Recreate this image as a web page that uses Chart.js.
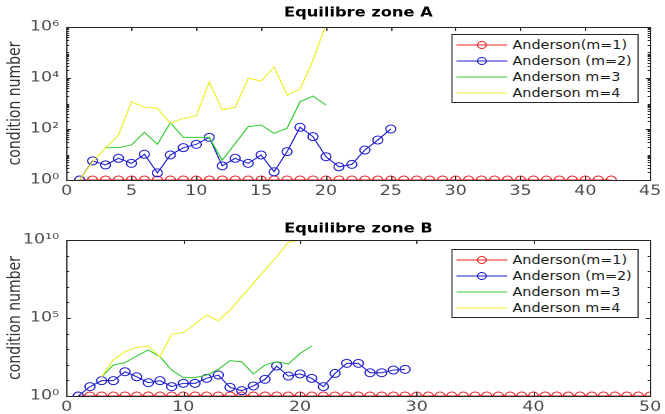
<!DOCTYPE html>
<html>
<head>
<meta charset="utf-8">
<script src="https://cdn.jsdelivr.net/npm/chart.js@4.4.1/dist/chart.umd.min.js"></script>
<style>
  html, body { margin: 0; padding: 0; background: #fff; overflow: hidden; width: 665px; height: 414px; }
  /* the reference figure is stretched horizontally, so draw narrow and stretch */
  #wrap { position: absolute; left: 0; top: 0; width: 532px; height: 414px; transform: scaleX(1.25); transform-origin: 0 0; }
  .panel { position: absolute; left: 0; width: 532px; height: 207px; }
  .legend { position: absolute; left: 361px; width: 150px; height: 69px; box-sizing: border-box; border: 1px solid #262626;
            background: #fff; padding-top: 2px; font: 11.5px "DejaVu Sans", sans-serif; color: #1a1a1a; }
  .row { height: 16px; display: flex; align-items: center; white-space: nowrap; }
  .row svg { margin-left: 3px; margin-right: 4px; flex: none; }
</style>
</head>
<body>
<div id="wrap">
  <div class="panel" style="top:0"><canvas id="chartA" width="532" height="207"></canvas></div>
  <div class="panel" style="top:207px"><canvas id="chartB" width="532" height="207"></canvas></div>
  <div class="legend" id="legA" style="top:34px"></div>
  <div class="legend" id="legB" style="top:249px"></div>
</div>
<script>
// ---- data (index = iteration 1, 2, 3 ...) ----
var labels = ['Anderson(m=1)', 'Anderson (m=2)', 'Anderson m=3', 'Anderson m=4'];

// zone A
var redA = [1,1,1,1,1,1,1,1,1,1,1,1,1,1,1,1,1,1,1,1,1,1,1,1,1,1,1,1,1,1,1,1,1,1,1,1,1,1,1,1,1,1];
var blueA = [1, 5.6, 3.9, 7.1, 4.5, 10.2, 1.9, 9.6, 18.5, 25, 47, 3.6, 7.1, 4.5, 9.6, 2.1, 12.9, 117, 50, 8.2, 3.3, 4.1, 15, 37, 100];
var greenA = [null, null, 18.5, 18.5, 23.6, 74, 25, 177, 47, 47, 47, 6, 27, 123, 143, 68, 107, 1170, 1960, 870];
var yellowA = [1, 5.2, 18.5, 58, 1170, 710, 650, 167, 262, 324, 7000, 560, 710, 9700, 7600, 27000, 2150, 3600, 50000, 1.3e6];

// zone B
var redB = [1,1,1,1,1,1,1,1,1,1,1,1,1,1,1,1,1,1,1,1,1,1,1,1,1,1,1,1,1,1,1,1,1,1,1,1,1,1,1,1,1,1,1,1,1,1,1,1,1,1];
var blueB = [1, 4, 9.6, 9.6, 36, 17, 7.1, 9.6, 4, 6.5, 6.5, 13.6, 22, 3.6, 2.2, 4.4, 11.7, 83, 19, 26, 13.6, 4, 28, 124, 124, 31, 31, 46, 51];
var greenB = [null, null, 17, 97, 137, 365, 890, 330, 46, 15, 15, 22, 51, 185, 158, 26, 97, 158, 112, 540, 1600];
var yellowB = [null, null, 17, 204, 690, 1320, 1600, 330, 9400, 11400, 41000, 155000, 67000, 3.2e5, 2.3e6, 1.7e7, 1.2e8, 8.5e8, 7e9, 1e10];

// axis ticks
var xTicksA = { max: 45, step: 5 };
var xTicksB = { max: 50, step: 10 };
var yTicksA = [1, 1e2, 1e4, 1e6];
var yTicksB = [1, 1e5, 1e10];

var RED = 'rgb(238,34,34)', BLUE = 'rgb(30,30,205)', GREEN = 'rgb(50,205,50)', YELLOW = 'rgb(238,238,40)';
var colors = [RED, BLUE, GREEN, YELLOW];

Chart.defaults.font.family = '"DejaVu Sans", sans-serif';

var SUP = {'0':'\u2070','1':'\u00b9','2':'\u00b2','3':'\u00b3','4':'\u2074','5':'\u2075','6':'\u2076','7':'\u2077','8':'\u2078','9':'\u2079'};
function powLabel(v) {
  var e = Math.round(Math.log10(v));
  return '10' + String(e).split('').map(function(c) { return SUP[c]; }).join('');
}

function toPoints(arr) {
  return arr.map(function(v, i) { return { x: i + 1, y: v }; });
}

function makeSets(red, blue, green, yellow) {
  var all = [red, blue, green, yellow];
  return all.map(function(arr, i) {
    var marker = i < 2;
    return {
      label: labels[i],
      data: toPoints(arr),
      borderColor: colors[i],
      borderWidth: 1,
      pointRadius: marker ? 4 : 0,
      pointStyle: 'circle',
      pointBorderColor: colors[i],
      pointBackgroundColor: 'rgba(0,0,0,0)',
      pointBorderWidth: 1,
      order: 4 - i,
      tension: 0
    };
  });
}

// box around the axes with inward ticks (matlab style)
var framePlugin = {
  id: 'frame',
  afterDraw: function(chart, args, opts) {
    var ctx = chart.ctx, a = chart.chartArea, xs = chart.scales.x, ys = chart.scales.y;
    var majors = ys.ticks.map(function(t) { return t.value; });
    ctx.save();
    ctx.strokeStyle = '#262626';
    ctx.lineWidth = 1;
    ctx.beginPath();
    xs.ticks.forEach(function(t) {
      var px = Math.round(xs.getPixelForValue(t.value)) + 0.5;
      ctx.moveTo(px, a.bottom); ctx.lineTo(px, a.bottom - 4);
      ctx.moveTo(px, a.top); ctx.lineTo(px, a.top + 4);
    });
    function yTick(v, len) {
      var py = Math.round(ys.getPixelForValue(v)) + 0.5;
      ctx.moveTo(a.left, py); ctx.lineTo(a.left + len, py);
      ctx.moveTo(a.right, py); ctx.lineTo(a.right - len, py);
    }
    majors.forEach(function(v) { yTick(v, 3.5); });
    var maxExp = Math.round(Math.log10(ys.max));
    for (var k = 0; k < maxExp; k++) {
      if (opts.fine) {
        for (var m = 2; m <= 10; m++) {
          var v = m * Math.pow(10, k);
          if (majors.indexOf(v) < 0) yTick(v, 2);
        }
      } else if (k > 0 && majors.indexOf(Math.pow(10, k)) < 0) {
        yTick(Math.pow(10, k), 2);
      }
    }
    ctx.stroke();
    ctx.strokeRect(Math.round(a.left) + 0.5, Math.round(a.top) + 0.5, Math.round(a.right - a.left), Math.round(a.bottom - a.top));
    ctx.restore();
  }
};

function makeChart(id, title, sets, xt, yt, o) {
  return new Chart(document.getElementById(id), {
    type: 'line',
    data: { datasets: sets },
    plugins: [framePlugin],
    options: {
      responsive: false,
      animation: false,
      devicePixelRatio: 2,
      layout: { padding: { left: 0, right: 9.6, top: 0, bottom: 0 } },
      plugins: {
        legend: { display: false },
        tooltip: { enabled: false },
        title: {
          display: true,
          fullSize: false,
          text: title,
          color: '#000',
          font: { size: 13, weight: 'bold' },
          padding: { top: o.titleTop, bottom: o.titleBottom }
        },
        frame: { fine: o.fine }
      },
      scales: {
        x: {
          type: 'linear',
          min: 0,
          max: xt.max,
          ticks: { stepSize: xt.step, padding: 3, color: '#4d4d4d', font: { size: 14 }, maxRotation: 0, autoSkip: false },
          grid: { display: false, drawTicks: false },
          border: { display: false },
          afterFit: function(s) { s.height = o.xHeight; }
        },
        y: {
          type: 'logarithmic',
          min: 1,
          max: yt[yt.length - 1],
          afterBuildTicks: function(s) { s.ticks = yt.map(function(v) { return { value: v }; }); },
          ticks: { padding: 6, color: '#4d4d4d', font: { size: 14 }, callback: function(v) { return powLabel(v); } },
          title: { display: true, text: 'condition number', color: '#333', font: { size: 14 }, padding: { top: 4, bottom: 0 } },
          grid: { display: false, drawTicks: false },
          border: { display: false },
          afterFit: function(s) { s.width = 53.3; }
        }
      }
    }
  });
}

var chartA = makeChart('chartA', 'Equilibre zone A', makeSets(redA, blueA, greenA, yellowA), xTicksA, yTicksA,
  { titleTop: 5.5, titleBottom: 5.9, xHeight: 27, fine: true });
var chartB = makeChart('chartB', 'Equilibre zone B', makeSets(redB, blueB, greenB, yellowB), xTicksB, yTicksB,
  { titleTop: 14.5, titleBottom: 2.9, xHeight: 18, fine: false });

// legends inside the axes, built from the datasets
function buildLegend(elId, chart) {
  var el = document.getElementById(elId);
  chart.data.datasets.forEach(function(ds) {
    var row = document.createElement('div');
    row.className = 'row';
    var svg = '<svg width="41" height="12" viewBox="0 0 41 12">' +
      '<line x1="0" y1="6" x2="41" y2="6" stroke="' + ds.borderColor + '" stroke-width="1"/>' +
      (ds.pointRadius > 0 ? '<circle cx="20.5" cy="6" r="3.5" fill="none" stroke="' + ds.borderColor + '" stroke-width="1"/>' : '') +
      '</svg>';
    row.innerHTML = svg + '<span>' + ds.label + '</span>';
    el.appendChild(row);
  });
}
buildLegend('legA', chartA);
buildLegend('legB', chartB);
</script>
</body>
</html>
